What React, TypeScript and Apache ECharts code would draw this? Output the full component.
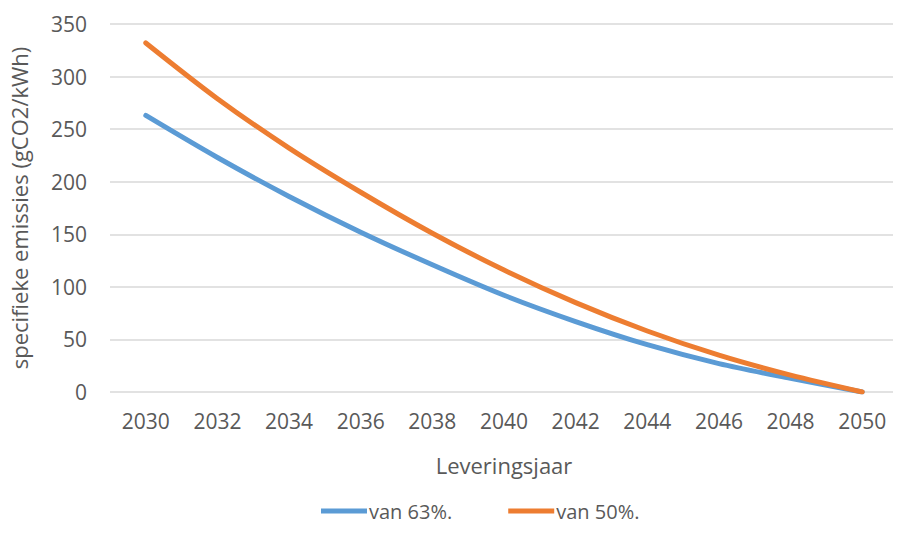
import React, { useEffect, useRef } from "react";
import * as echarts from "echarts";

// Delivery years and specific emissions (gCO2/kWh) for both scenarios
const years = [2030, 2032, 2034, 2036, 2038, 2040, 2042, 2044, 2046, 2048, 2050];
const van63 = [263, 223, 186, 152, 121, 92, 67, 45, 27, 13, 0];
const van50 = [332, 279, 232, 190, 151, 116, 85, 58, 35, 16, 0];
const seriesNames = ["van 63%.", "van 50%."];
const yTicks = [0, 50, 100, 150, 200, 250, 300, 350];

const FONT = "'Open Sans', sans-serif";
const TEXT = "#595959";

export default function App() {
  const ref = useRef<HTMLDivElement>(null);

  useEffect(() => {
    if (!ref.current) return;
    const chart = echarts.init(ref.current, null, { renderer: "svg" });
    chart.setOption({
      animation: false,
      backgroundColor: "#ffffff",
      textStyle: { fontFamily: FONT, color: TEXT },
      grid: { left: 105, top: 24, width: 798, height: 368, containLabel: false },
      xAxis: {
        type: "value",
        min: 2029,
        max: 2051,
        interval: 1,
        name: "Leveringsjaar",
        nameLocation: "middle",
        nameGap: 62,
        nameTextStyle: { fontSize: 22, color: TEXT, fontFamily: FONT },
        axisLine: { show: false },
        axisTick: { show: false },
        splitLine: { show: false },
        axisLabel: {
          margin: 18,
          fontSize: 21,
          color: TEXT,
          fontFamily: FONT,
          formatter: (v: number) => (v % 2 === 0 && v >= years[0] && v <= years[years.length - 1] ? String(v) : ""),
        },
      },
      yAxis: {
        type: "value",
        min: yTicks[0],
        max: yTicks[yTicks.length - 1],
        interval: 50,
        name: "specifieke emissies (gCO2/kWh)",
        nameLocation: "middle",
        nameGap: 80,
        nameRotate: 90,
        nameTextStyle: { fontSize: 22, color: TEXT, fontFamily: FONT },
        axisLine: { show: false },
        axisTick: { show: false },
        axisLabel: { margin: 23, fontSize: 21, color: TEXT, fontFamily: FONT },
        splitLine: { lineStyle: { color: "#d9d9d9", width: 1.5 } },
      },
      legend: {
        top: 496,
        left: 316,
        itemWidth: 46,
        itemHeight: 14,
        itemGap: 56,
        icon: "path://M0,5 L46,5 L46,10 L0,10 Z",
        textStyle: { fontSize: 20, color: TEXT, fontFamily: FONT, padding: [0, 0, 0, -3] },
        data: seriesNames,
      },
      series: [
        {
          name: seriesNames[0],
          type: "line",
          data: years.map((y, i) => [y, van63[i]]),
          smooth: 0.3,
          showSymbol: false,
          symbol: "none",
          lineStyle: { color: "#5b9bd5", width: 5, cap: "round" },
          itemStyle: { color: "#5b9bd5" },
        },
        {
          name: seriesNames[1],
          type: "line",
          data: years.map((y, i) => [y, van50[i]]),
          smooth: 0.3,
          showSymbol: false,
          symbol: "none",
          lineStyle: { color: "#ed7d31", width: 5, cap: "round" },
          itemStyle: { color: "#ed7d31" },
        },
      ],
    });
    return () => chart.dispose();
  }, []);

  return <div ref={ref} style={{ width: 901, height: 540, margin: -8 }} />;
}
